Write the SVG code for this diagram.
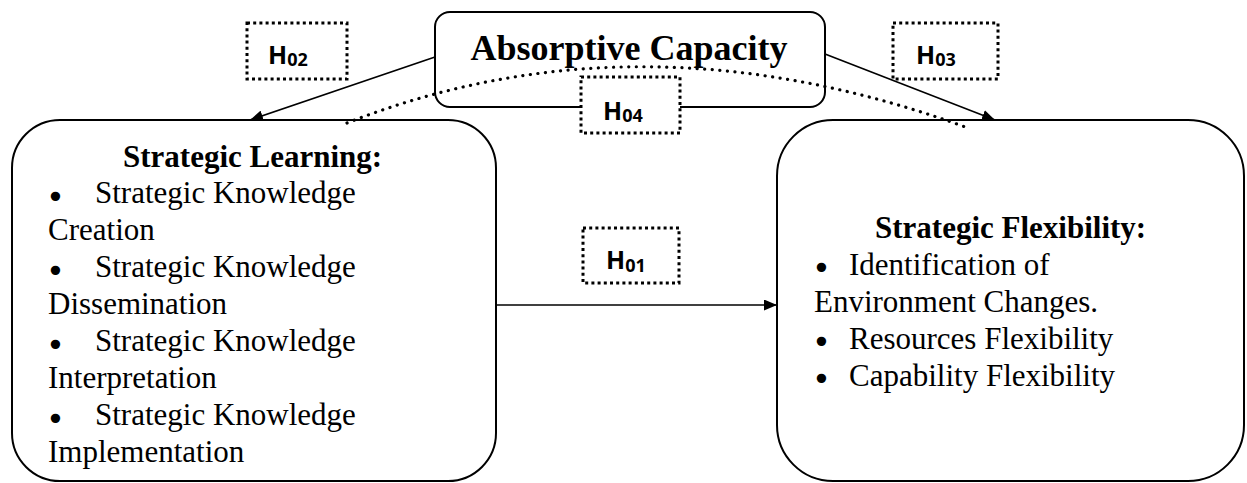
<svg xmlns="http://www.w3.org/2000/svg" width="1247" height="483" viewBox="0 0 1247 483">
<style>
.node{fill:none;stroke:#000;stroke-width:2}
.hbox{fill:#fff;stroke:#000;stroke-width:3;stroke-dasharray:3 3.2}
.conn{fill:none;stroke:#000;stroke-width:1.6}
.dot{fill:none;stroke:#000;stroke-width:3.2;stroke-dasharray:0.1 7.5;stroke-linecap:round}
.t{font-family:"Liberation Serif","Times New Roman",serif;font-size:31px;fill:#000}
.bl{font-family:"DejaVu Sans",sans-serif;font-size:32px;fill:#000}
.b{font-weight:bold}
.h{font-family:"Open Sans","Liberation Sans",sans-serif;font-weight:bold;font-size:25px;fill:#000}
.sub{font-size:18px}
</style>
<defs>
<marker id="arr" viewBox="0 0 13 11" refX="13" refY="5.5" markerWidth="13" markerHeight="11" markerUnits="userSpaceOnUse" orient="auto">
<path d="M0,0 L13,5.5 L0,11 z" fill="#000"/>
</marker>
</defs>
<rect width="1247" height="483" fill="#fff"/>
<g id="absorptive">
<rect class="node" x="435" y="12" width="390" height="95" rx="15"/>
<text class="t b" x="629" y="60" text-anchor="middle" style="font-size:36px">Absorptive Capacity</text>
</g>
<g id="learning">
<rect class="node" x="12" y="120" width="484" height="361" rx="48"/>
<text class="t b" x="123" y="167">Strategic Learning:</text>
<text class="bl" x="46" y="208">•</text><text class="t" x="95" y="203">Strategic Knowledge</text>
<text class="t" x="48" y="240">Creation</text>
<text class="bl" x="46" y="282">•</text><text class="t" x="95" y="277">Strategic Knowledge</text>
<text class="t" x="48" y="314">Dissemination</text>
<text class="bl" x="46" y="356">•</text><text class="t" x="95" y="351">Strategic Knowledge</text>
<text class="t" x="48" y="388">Interpretation</text>
<text class="bl" x="46" y="430">•</text><text class="t" x="95" y="425">Strategic Knowledge</text>
<text class="t" x="48" y="462">Implementation</text>
</g>
<g id="flexibility">
<rect class="node" x="777" y="120" width="467" height="361" rx="56"/>
<text class="t b" x="875" y="238">Strategic Flexibility:</text>
<text class="bl" x="812" y="279">•</text><text class="t" x="849" y="275">Identification of</text>
<text class="t" x="814" y="312">Environment Changes.</text>
<text class="bl" x="812" y="353">•</text><text class="t" x="849" y="349">Resources Flexibility</text>
<text class="bl" x="812" y="390">•</text><text class="t" x="849" y="386">Capability Flexibility</text>
</g>
<g id="connectors">
<path class="conn" d="M435,57 L250,120" marker-end="url(#arr)"/>
<path class="conn" d="M825,54 L995,120" marker-end="url(#arr)"/>
<path class="conn" d="M496,305 L777,305" marker-end="url(#arr)"/>
<path class="dot" d="M347,123 Q640,8 968,128"/>
</g>
<g id="h02">
<rect class="hbox" x="247" y="23" width="100" height="56"/>
<text class="h" x="268" y="64">H<tspan class="sub" dy="2">02</tspan></text>
</g>
<g id="h03">
<rect class="hbox" x="893" y="23" width="105" height="56"/>
<text class="h" x="916" y="64">H<tspan class="sub" dy="2">03</tspan></text>
</g>
<g id="h04">
<rect class="hbox" x="581" y="77" width="99" height="56"/>
<text class="h" x="603" y="120">H<tspan class="sub" dy="2">04</tspan></text>
</g>
<g id="h01">
<rect class="hbox" x="583" y="228" width="96" height="55"/>
<text class="h" x="606" y="269">H<tspan class="sub" dy="3">01</tspan></text>
</g>
</svg>
